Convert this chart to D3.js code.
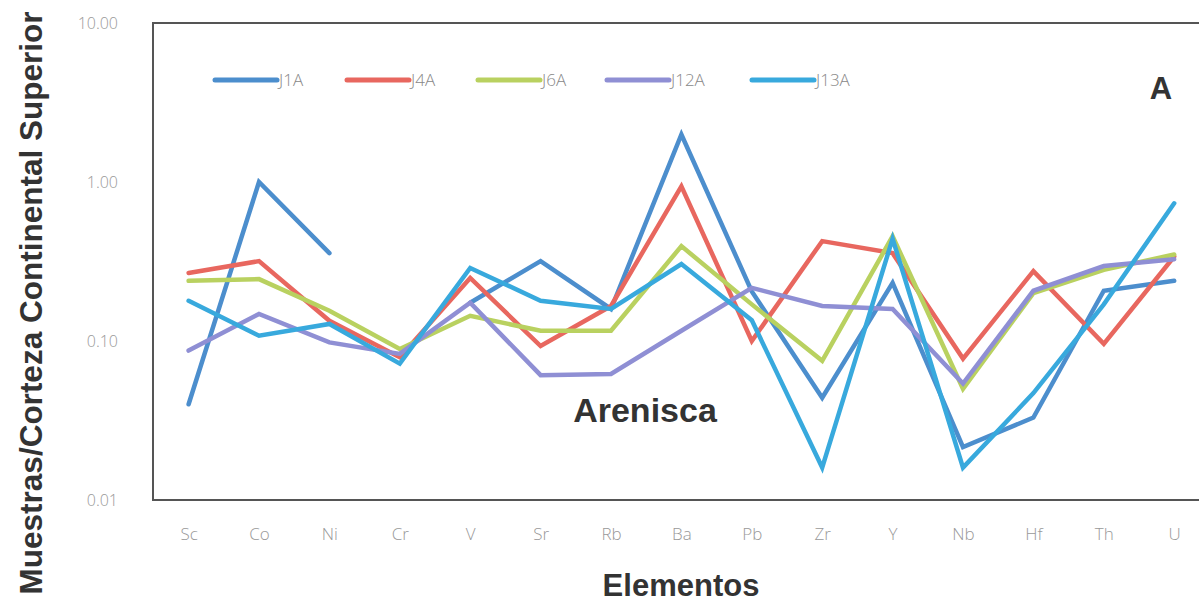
<!DOCTYPE html>
<html>
<head>
<meta charset="utf-8">
<script src="https://cdn.jsdelivr.net/npm/d3@7"></script>
<style>
  html, body { margin: 0; padding: 0; background: #ffffff; }
  svg { display: block; }
</style>
</head>
<body>
<svg id="chart" width="1199" height="612"></svg>
<script>
// Elements on the x axis
const elements = ["Sc", "Co", "Ni", "Cr", "V", "Sr", "Rb", "Ba", "Pb", "Zr", "Y", "Nb", "Hf", "Th", "U"];

// Sample / Upper Continental Crust ratios (null = no data)
const j1a  = [0.040, 1.00, 0.357, null, 0.174, 0.318, 0.159, 1.99, 0.205, 0.044, 0.232, 0.0215, 0.033, 0.207, 0.239];
const j4a  = [0.268, 0.318, 0.134, 0.079, 0.249, 0.093, 0.166, 0.94, 0.100, 0.425, 0.357, 0.0775, 0.275, 0.096, 0.340];
const j6a  = [0.239, 0.245, 0.155, 0.089, 0.144, 0.116, 0.116, 0.395, 0.170, 0.075, 0.456, 0.050, 0.200, 0.280, 0.350];
const j12a = [0.087, 0.148, 0.098, 0.083, 0.174, 0.061, 0.062, 0.116, 0.216, 0.166, 0.159, 0.054, 0.207, 0.296, 0.327];
const j13a = [0.179, 0.108, 0.128, 0.072, 0.288, 0.179, 0.159, 0.305, 0.135, 0.016, 0.440, 0.016, 0.047, 0.170, 0.735];

const seriesNames = ["J1A", "J4A", "J6A", "J12A", "J13A"];
const seriesValues = [j1a, j4a, j6a, j12a, j13a];
const seriesColors = ["#4C8ECD", "#E8675F", "#B9D160", "#8F8FD4", "#38A9DD"];

const yTicks = [10, 1, 0.1, 0.01];

const svg = d3.select("#chart");

const plot = { left: 153, top: 23, right: 1215, bottom: 500 };

// Category positions: points centred in equal bands
const x = d3.scalePoint()
  .domain(elements)
  .range([plot.left + 35.6, plot.left + 35.6 + 14 * 70.4]);

const y = d3.scaleLog()
  .domain([0.01, 10])
  .range([plot.bottom, plot.top]);

// Plot frame
svg.append("rect")
  .attr("x", plot.left)
  .attr("y", plot.top)
  .attr("width", plot.right - plot.left)
  .attr("height", plot.bottom - plot.top)
  .attr("fill", "none")
  .attr("stroke", "#555")
  .attr("stroke-width", 2);

// Y axis labels
const yAxis = d3.axisLeft(y)
  .tickValues(yTicks)
  .tickFormat(d3.format(".2f"))
  .tickSize(0)
  .tickPadding(0);

svg.append("g")
  .attr("transform", `translate(${plot.left - 35},0)`)
  .call(yAxis)
  .call(g => g.select(".domain").remove())
  .call(g => g.selectAll("text")
    .attr("fill", "#999")
    .attr("font-family", "'Open Sans', sans-serif")
    .attr("font-weight", 300)
    .attr("font-size", 16));

// X axis labels
const xAxis = d3.axisBottom(x).tickSize(0).tickPadding(0);
svg.append("g")
  .attr("transform", `translate(0,${plot.bottom + 28})`)
  .call(xAxis)
  .call(g => g.select(".domain").remove())
  .call(g => g.selectAll("text")
    .attr("fill", "#999")
    .attr("font-family", "'Open Sans', sans-serif")
    .attr("font-weight", 300)
    .attr("font-size", 17));

// Series lines
const line = d3.line()
  .defined(d => d.v != null)
  .x(d => x(d.e))
  .y(d => y(d.v));

seriesValues.forEach((vals, i) => {
  const pts = elements.map((e, k) => ({ e, v: vals[k] }));
  svg.append("path")
    .datum(pts)
    .attr("d", line)
    .attr("fill", "none")
    .attr("stroke", seriesColors[i])
    .attr("stroke-width", 4.5)
    .attr("stroke-linejoin", "miter")
    .attr("stroke-linecap", "round");
});

// Legend
const legendX = [215, 347, 478, 607, 752];
const legendY = 80;
const legend = svg.append("g");
seriesNames.forEach((name, i) => {
  legend.append("line")
    .attr("x1", legendX[i]).attr("x2", legendX[i] + 62)
    .attr("y1", legendY).attr("y2", legendY)
    .attr("stroke", seriesColors[i])
    .attr("stroke-width", 5)
    .attr("stroke-linecap", "round");
  legend.append("text")
    .attr("x", legendX[i] + 64)
    .attr("y", legendY + 6)
    .attr("fill", "#888")
    .attr("font-family", "'Open Sans', sans-serif")
    .attr("font-weight", 300)
    .attr("font-size", 17)
    .text(name);
});

// Panel letter
svg.append("text")
  .attr("x", 1161).attr("y", 99)
  .attr("text-anchor", "middle")
  .attr("fill", "#333")
  .attr("font-family", "'Liberation Sans', Arial, sans-serif")
  .attr("font-weight", "bold")
  .attr("font-size", 31)
  .text("A");

// Rock type annotation
svg.append("text")
  .attr("x", 645).attr("y", 422)
  .attr("text-anchor", "middle")
  .attr("fill", "#333")
  .attr("font-family", "'Liberation Sans', Arial, sans-serif")
  .attr("font-weight", "bold")
  .attr("font-size", 34)
  .text("Arenisca");

// Axis titles
svg.append("text")
  .attr("x", 681).attr("y", 596)
  .attr("text-anchor", "middle")
  .attr("fill", "#333")
  .attr("font-family", "'Liberation Sans', Arial, sans-serif")
  .attr("font-weight", "bold")
  .attr("font-size", 31)
  .text("Elementos");

svg.append("text")
  .attr("transform", "translate(42,303) rotate(-90)")
  .attr("text-anchor", "middle")
  .attr("fill", "#333")
  .attr("font-family", "'Liberation Sans', Arial, sans-serif")
  .attr("font-weight", "bold")
  .attr("font-size", 31.5)
  .text("Muestras/Corteza Continental Superior");
</script>
</body>
</html>
